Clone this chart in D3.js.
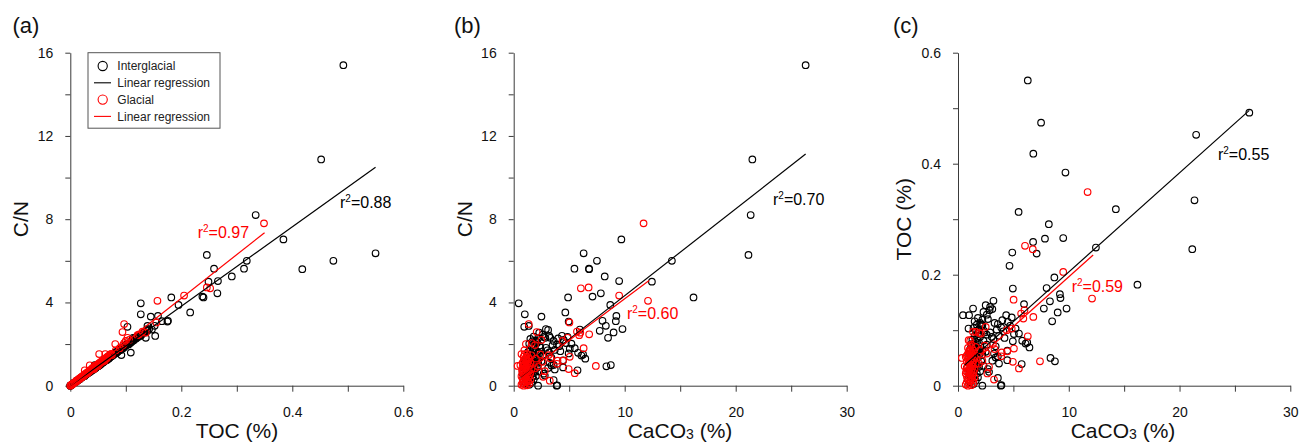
<!DOCTYPE html>
<html>
<head>
<meta charset="utf-8">
<title>C/N, TOC and CaCO3</title>
<script src="https://cdn.jsdelivr.net/npm/d3@7"></script>
<style>
  body { margin: 0; background: #fff; }
</style>
</head>
<body>
<script>
// each sample: [TOC %, C/N, CaCO3 %]
var interglacial = [
  [0.492,15.4,26.3],[0.452,10.87,21.5],[0.334,8.2,21.35],[0.246,6.28,21.15],
  [0.550,6.36,6.3],[0.474,6.0,7.5],[0.418,5.6,6.8],[0.384,7.03,9.7],
  [0.318,6.0,14.25],[0.313,5.62,5.47],[0.291,5.25,8.2],[0.266,5.03,9.5],
  [0.265,4.44,7.85],[0.259,5.62,6.78],[0.249,5.0,12.45],[0.238,4.28,7.1],
  [0.240,4.24,4.9],[0.216,3.52,4.65],[0.182,4.24,16.2],[0.195,3.88,8.7],
  [0.176,3.12,8.0],[0.175,3.08,4.95],[0.165,3.1,9.2],[0.158,3.35,9.25],
  [0.152,2.88,8.3],[0.139,2.64,7.75],[0.139,2.72,9.8],[0.132,2.56,9.0],
  [0.116,2.3,8.5],[0.127,3.96,0.45],[0.127,3.43,1.0],[0.103,2.83,0.95],
  [0.139,2.87,1.36],[0.145,3.32,2.5],[0.147,2.7,5.96],[0.153,2.39,3.2],
  [0.136,2.3,2.85],[0.109,1.59,2.2],[0.092,1.47,2.6],
  [0.120,2.35,2.7],[0.110,2.1,2.1],[0.127,2.4,4.35],[0.123,2.35,4.85],
  [0.115,2.2,4.5],[0.111,2.15,3.6],[0.105,1.98,3.9],[0.113,2.3,3.3],
  [0.098,1.9,4.1],[0.101,1.95,3.5],[0.096,1.82,2.9],[0.090,1.72,3.7],
  [0.103,2.02,5.2],[0.094,1.8,5.5],[0.080,1.55,4.95],[0.076,1.45,6.1],
  [0.078,1.5,6.25],[0.069,1.3,6.45],[0.081,1.58,5.8],[0.086,1.66,4.2],
  [0.088,1.7,3.05],[0.074,1.42,2.6],[0.071,1.35,3.4],[0.050,0.93,8.35],
  [0.044,0.99,8.75],[0.039,0.74,5.75],[0.046,0.88,4.45],[0.051,0.97,3.4],
  [0.045,0.85,3.1],[0.040,0.78,3.7],[0.053,1.0,3.6],[0.056,1.1,2.2],
  [0.061,1.17,2.5],[0.066,1.26,1.9],[0.014,0.27,3.6],[0.000,0.0,3.87],
  [0.001,0.02,3.92],[0.000,0.0,2.2],[0.030,0.58,2.7],[0.036,0.68,2.3],
  [0.025,0.49,2.8],[0.118,2.27,4.0],[0.108,2.05,4.7],[0.099,1.93,2.35],
  [0.093,1.78,5.05],[0.084,1.6,3.2],[0.063,1.22,4.45],[0.058,1.1,3.25],
  [0.003,0.05,1.4],[0.006,0.13,1.1],[0.009,0.16,1.6],[0.011,0.23,0.9],
  [0.013,0.24,1.3],[0.015,0.30,1.8],[0.017,0.31,1.2],[0.019,0.38,1.5],
  [0.021,0.40,1.0],[0.022,0.44,1.7],[0.024,0.46,1.3],[0.026,0.47,2.0],
  [0.027,0.53,1.1],[0.029,0.55,1.4],[0.031,0.62,1.6],[0.032,0.60,0.8],
  [0.034,0.66,1.9],[0.036,0.67,1.2],[0.037,0.73,1.5],[0.039,0.74,1.7],
  [0.041,0.80,1.0],[0.042,0.78,1.4],[0.044,0.86,2.1],[0.045,0.84,1.3],
  [0.047,0.92,1.6],[0.049,0.93,1.1],[0.050,0.99,1.8],[0.052,0.97,1.4],
  [0.054,1.05,1.2],[0.055,1.03,1.9],[0.057,1.10,1.5],[0.058,1.12,1.0],
  [0.060,1.14,1.7],[0.061,1.19,1.3],[0.063,1.20,2.2],[0.065,1.26,1.6],
  [0.066,1.24,1.1],[0.068,1.31,1.8],[0.070,1.33,1.4],[0.071,1.38,2.0],
  [0.073,1.40,1.5],[0.075,1.44,1.2],[0.077,1.47,1.9],[0.079,1.53,1.6],
  [0.081,1.55,2.3],[0.083,1.62,1.3],[0.085,1.63,1.7],[0.088,1.70,2.0],
  [0.090,1.72,1.5],[0.093,1.80,1.8],[0.096,1.84,2.4],[0.099,1.91,1.6],
  [0.101,1.95,1.9],[0.104,2.02,1.4],[0.107,2.05,2.1],[0.110,2.14,1.7],
  [0.113,2.16,2.0],[0.116,2.25,1.5],[0.119,2.28,2.2],[0.122,2.36,1.8],
  [0.128,2.45,2.6],[0.133,2.55,2.3],[0.138,2.68,3.1],[0.142,2.72,2.9]
];

var glacial = [
  [0.349,7.8,11.7],[0.252,4.68,6.05],[0.246,4.72,6.75],[0.205,4.33,9.5],
  [0.157,4.08,12.1],[0.155,3.04,5.02],[0.097,2.96,1.35],[0.094,2.58,2.07],
  [0.081,2.0,1.1],[0.097,2.05,1.62],[0.136,2.55,6.0],[0.124,2.47,6.8],
  [0.089,1.8,6.3],[0.067,1.39,5.05],[0.062,1.2,4.45],[0.060,1.2,3.95],
  [0.043,0.8,4.95],[0.031,0.6,5.5],[0.044,0.95,7.4],[0.011,0.24,3.25],
  [0.075,1.47,3.15],[0.022,0.43,2.65],[0.100,2.15,4.4],[0.103,2.3,4.85],
  [0.106,2.2,2.5],[0.121,2.43,5.9],[0.130,2.6,5.7],[0.082,1.7,0.96],
  [0.095,1.95,1.92],[0.050,0.95,0.35],
  [0.058,1.15,2.6],[0.045,0.92,2.2],[0.034,0.70,2.8],[0.066,1.32,3.3],
  [0.072,1.50,2.4],[0.040,0.83,1.9],[0.053,1.05,3.9],[0.064,1.3,2.0],
  [0.000,0.00,0.9],[0.001,0.02,1.2],[0.002,0.05,0.7],[0.004,0.07,1.0],
  [0.005,0.11,1.4],[0.007,0.14,0.8],[0.009,0.17,1.1],[0.010,0.21,1.3],
  [0.012,0.23,0.9],[0.013,0.27,1.2],[0.015,0.29,1.5],[0.016,0.34,0.8],
  [0.018,0.35,1.0],[0.019,0.40,1.3],[0.021,0.41,1.1],[0.022,0.46,0.7],
  [0.024,0.47,1.4],[0.025,0.52,0.9],[0.027,0.53,1.2],[0.028,0.59,1.0],
  [0.030,0.60,1.5],[0.031,0.64,0.8],[0.033,0.66,1.1],[0.034,0.71,1.3],
  [0.036,0.72,0.9],[0.037,0.77,1.2],[0.039,0.79,1.6],[0.040,0.84,1.0],
  [0.042,0.85,1.3],[0.043,0.90,0.8],[0.045,0.91,1.1],[0.046,0.96,1.4],
  [0.048,0.97,0.9],[0.049,1.02,1.2],[0.051,1.03,1.0],[0.052,1.09,1.5],
  [0.054,1.10,0.8],[0.055,1.15,1.1],[0.057,1.16,1.3],[0.058,1.21,0.9],
  [0.060,1.22,1.2],[0.061,1.27,1.0],[0.063,1.29,1.4],[0.064,1.33,1.1],
  [0.052,1.52,0.7],[0.063,1.52,1.0],[0.066,1.37,1.3],[0.068,1.40,0.9],
  [0.070,1.46,1.6],[0.074,1.53,1.2],[0.035,0.98,0.6],[0.026,0.74,0.75]
];

// regression lines: [[x0, y0], [x1, y1]]
var regTocCnIg = [[0, 0], [0.55, 10.5]];
var regTocCnGl = [[0, 0], [0.35, 7.35]];
var regCaCnIg = [[0.6, 0.4], [26.3, 11.13]];
var regCaCnGl = [[0.6, 0.43], [12.2, 5.05]];
var regCaTocIg = [[0.6, 0.037], [26.3, 0.496]];
var regCaTocGl = [[0.6, 0.028], [12.2, 0.2355]];

var tocTicks = [0, 0.1, 0.2, 0.3, 0.4, 0.5, 0.6];
var tocLabels = [0, 0.2, 0.4, 0.6];
var cnTicks = [0, 2, 4, 6, 8, 10, 12, 14, 16];
var cnLabels = [0, 4, 8, 12, 16];
var caTicks = [0, 5, 10, 15, 20, 25, 30];
var caLabels = [0, 10, 20, 30];

var FONT = "Arial, 'Liberation Sans', sans-serif";
var plotTop = 52.7, plotBottom = 385.7;

var axes = {
  toc: {i: 0, domain: [0, 0.6], ticks: tocTicks, labels: tocLabels, title: "TOC (%)"},
  cn:  {i: 1, domain: [0, 16], ticks: cnTicks, labels: cnLabels, title: "C/N"},
  ca:  {i: 2, domain: [0, 30], ticks: caTicks, labels: caLabels, title: "CaCO3"}
};

var panels = [
  {tag: "(a)", tagX: 12.5, left: 70.3, right: 403.3, xAx: axes.toc, yAx: axes.cn,
   xTitleX: 237, yTitleX: 28, regIg: regTocCnIg, regGl: regTocCnGl,
   r2Ig: ["0.88", 0.486, 8.55], r2Gl: ["0.97", 0.2295, 7.11], legend: true},
  {tag: "(b)", tagX: 454, left: 513.7, right: 846.7, xAx: axes.ca, yAx: axes.cn,
   xTitleX: 680, yTitleX: 472, regIg: regCaCnIg, regGl: regCaCnGl,
   r2Ig: ["0.70", 23.36, 8.68], r2Gl: ["0.60", 10.2, 3.2]},
  {tag: "(c)", tagX: 893, left: 958, right: 1290.3, xAx: axes.ca, yAx: axes.toc,
   xTitleX: 1123, yTitleX: 911, regIg: regCaTocIg, regGl: regCaTocGl,
   r2Ig: ["0.55", 23.47, 0.4067], r2Gl: ["0.59", 10.26, 0.1688]}
];

var svg = d3.select("body").append("svg")
    .attr("width", 1302)
    .attr("height", 443)
    .style("font-family", FONT);

function fmt(labels) {
  return function(d) { return labels.indexOf(d) >= 0 ? String(d) : ""; };
}

// axis title, with a small "3" for CaCO3
function titleText(sel, t) {
  if (t === "CaCO3") {
    sel.append("tspan").text("CaCO");
    sel.append("tspan").attr("font-size", 14).attr("dy", 0.5).text("3");
    sel.append("tspan").attr("dy", -0.5).text(" (%)");
  } else {
    sel.text(t);
  }
}

function r2Label(g, x, y, info, color) {
  var t = g.append("text")
      .attr("x", x(info[1]))
      .attr("y", y(info[2]))
      .attr("font-size", 16)
      .attr("fill", color);
  t.append("tspan").text("r");
  t.append("tspan").attr("font-size", 10).attr("dy", -6).text("2");
  t.append("tspan").attr("dy", 6).text("=" + info[0]);
}

panels.forEach(function(p) {
  var x = d3.scaleLinear().domain(p.xAx.domain).range([p.left, p.right]);
  var y = d3.scaleLinear().domain(p.yAx.domain).range([plotBottom, plotTop]);
  var g = svg.append("g");

  var xa = g.append("g")
      .attr("transform", "translate(0," + plotBottom + ")")
      .call(d3.axisBottom(x).tickValues(p.xAx.ticks).tickFormat(fmt(p.xAx.labels))
            .tickSize(6).tickSizeOuter(0).tickPadding(15));
  var ya = g.append("g")
      .attr("transform", "translate(" + p.left + ",0)")
      .call(d3.axisLeft(y).tickValues(p.yAx.ticks).tickFormat(fmt(p.yAx.labels))
            .tickSize(5).tickSizeOuter(0).tickPadding(12));
  [xa, ya].forEach(function(a) {
    a.attr("font-size", 14).attr("font-family", FONT);
    a.selectAll("path, line").attr("stroke", "#3a3a3a");
    a.selectAll("text").attr("fill", "#111");
  });

  // panel tag
  g.append("text").attr("x", p.tagX).attr("y", 33)
      .attr("font-size", 22).attr("fill", "#111").text(p.tag);

  var xt = g.append("text").attr("x", p.xTitleX).attr("y", 438)
      .attr("text-anchor", "middle").attr("font-size", 21).attr("fill", "#111");
  titleText(xt, p.xAx.title);
  var yt = g.append("text")
      .attr("transform", "translate(" + p.yTitleX + "," + ((plotTop + plotBottom) / 2) + ") rotate(-90)")
      .attr("text-anchor", "middle").attr("font-size", 21).attr("fill", "#111");
  titleText(yt, p.yAx.title);

  g.append("g").selectAll("circle")
    .data(interglacial)
    .join("circle")
      .attr("cx", function(d) { return x(d[p.xAx.i]); })
      .attr("cy", function(d) { return y(d[p.yAx.i]); })
      .attr("r", 3.3)
      .attr("fill", "none")
      .attr("stroke", "#000")
      .attr("stroke-width", 1.15);

  g.append("g").selectAll("circle")
    .data(glacial)
    .join("circle")
      .attr("cx", function(d) { return x(d[p.xAx.i]); })
      .attr("cy", function(d) { return y(d[p.yAx.i]); })
      .attr("r", 3.3)
      .attr("fill", "none")
      .attr("stroke", "#ff0000")
      .attr("stroke-width", 1.15);

  [[p.regIg, "#000"], [p.regGl, "#ff0000"]].forEach(function(r) {
    g.append("line")
      .attr("x1", x(r[0][0][0])).attr("y1", y(r[0][0][1]))
      .attr("x2", x(r[0][1][0])).attr("y2", y(r[0][1][1]))
      .attr("stroke", r[1]).attr("stroke-width", 1.2);
  });

  r2Label(g, x, y, p.r2Ig, "#000");
  r2Label(g, x, y, p.r2Gl, "#ff0000");

  if (p.legend) {
    var lg = g.append("g");
    lg.append("rect").attr("x", 88).attr("y", 52.7).attr("width", 132).attr("height", 75.5)
      .attr("fill", "#fff").attr("stroke", "#555").attr("stroke-width", 1);
    var items = [["circle", "#000", "Interglacial"], ["line", "#000", "Linear regression"],
                 ["circle", "#ff0000", "Glacial"], ["line", "#ff0000", "Linear regression"]];
    items.forEach(function(it, k) {
      var cy = 66 + k * 16.8;
      if (it[0] === "circle") {
        lg.append("circle").attr("cx", 102.7).attr("cy", cy).attr("r", 4.6)
          .attr("fill", "none").attr("stroke", it[1]).attr("stroke-width", 1.1);
      } else {
        lg.append("line").attr("x1", 94).attr("x2", 111).attr("y1", cy).attr("y2", cy)
          .attr("stroke", it[1]).attr("stroke-width", 1.1);
      }
      lg.append("text").attr("x", 117.3).attr("y", cy + 4.2)
        .attr("font-size", 12).attr("fill", "#222").text(it[2]);
    });
  }
});
</script>
</body>
</html>
